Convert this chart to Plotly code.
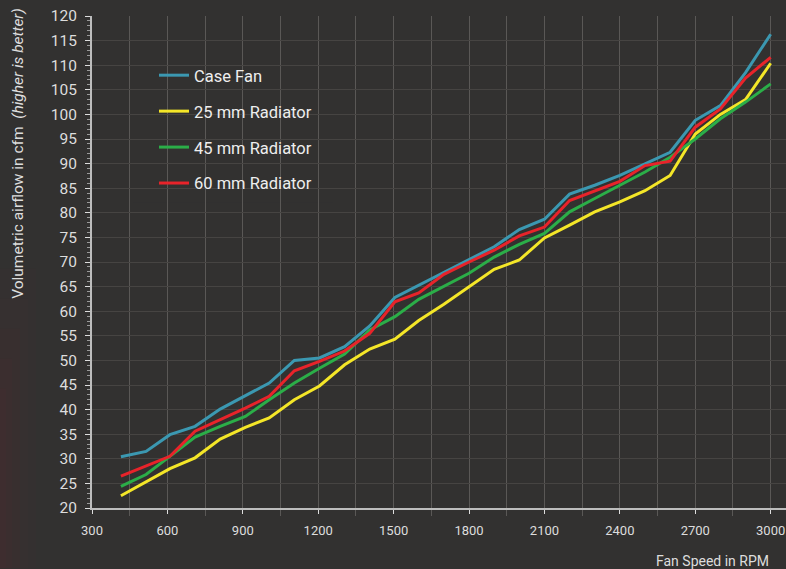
import plotly.graph_objects as go

rpm = [415, 515, 610, 710, 810, 910, 1005, 1105, 1205, 1305, 1405, 1505, 1600, 1700,
       1800, 1900, 2000, 2100, 2200, 2300, 2400, 2500, 2600, 2700, 2800, 2900, 3000]

case_fan = [30.4, 31.5, 34.9, 36.6, 40.1, 42.9, 45.4, 50.0, 50.5, 52.8, 57.0, 62.8, 65.3, 68.0,
            70.5, 73.1, 76.6, 78.7, 83.8, 85.6, 87.6, 90.0, 92.3, 98.8, 101.8, 108.5, 116.3]
rad_25 = [22.5, 25.3, 28.0, 30.2, 34.0, 36.4, 38.3, 42.0, 44.8, 49.1, 52.3, 54.3, 58.1, 61.4,
          65.0, 68.5, 70.4, 74.9, 77.5, 80.2, 82.2, 84.5, 87.6, 96.0, 100.0, 103.0, 110.4]
rad_45 = [24.4, 26.8, 30.5, 34.4, 36.6, 38.6, 42.0, 45.4, 48.4, 51.3, 56.2, 58.9, 62.4, 65.0,
          67.7, 71.0, 73.6, 75.8, 80.2, 82.9, 85.6, 88.3, 91.3, 95.0, 99.1, 102.5, 106.2]
rad_60 = [26.5, 28.6, 30.5, 35.6, 37.9, 40.3, 42.7, 47.9, 49.8, 51.9, 55.5, 61.9, 63.7, 67.5,
          70.0, 72.4, 75.3, 77.1, 82.5, 84.5, 86.4, 89.6, 90.5, 97.4, 101.1, 107.4, 111.6]

series_names = ["Case Fan", "25 mm Radiator", "45 mm Radiator", "60 mm Radiator"]
series_values = [case_fan, rad_25, rad_45, rad_60]
series_colors = ["#3b98b1", "#f4e628", "#2bae48", "#e8232a"]

BG = "#323130"
FONT = "Roboto"

fig = go.Figure()
for i, (name, vals, col) in enumerate(zip(series_names, series_values, series_colors)):
    fig.add_trace(go.Scatter(
        x=rpm, y=vals, name=name, mode="lines",
        line=dict(color=col, width=3),
        legendgroup=f"g{i}",
    ))

shapes = [
    # legend backdrop hiding gridlines
    dict(type="rect", xref="paper", yref="paper",
         x0=(133 - 92) / 694, x1=(333 - 92) / 694,
         y0=(508.5 - 203) / 492.5, y1=(508.5 - 53) / 492.5,
         fillcolor=BG, line=dict(width=0), layer="between"),
]
# subtle reddish glow at the left edge
for w, h, op in [(36, 300, 0.035), (28, 270, 0.04), (20, 240, 0.045), (12, 210, 0.05), (6, 180, 0.05)]:
    shapes.append(dict(type="rect", xref="paper", yref="paper",
                       x0=-92 / 694, x1=(w - 92) / 694,
                       y0=(508.5 - 569) / 492.5, y1=(508.5 - (569 - h)) / 492.5,
                       fillcolor="#7a2838", opacity=op, line=dict(width=0), layer="below"))

fig.update_layout(
    width=786, height=569,
    margin=dict(l=92, r=0, t=16, b=60.5),
    paper_bgcolor=BG, plot_bgcolor=BG,
    font=dict(family=FONT, color="#dddddd"),
    shapes=shapes,
    showlegend=True,
    legend=dict(
        x=(154 - 92) / 694, y=(508.5 - 58) / 492.5,
        xanchor="left", yanchor="top",
        bgcolor="rgba(0,0,0,0)",
        font=dict(family=FONT, size=16.5, color="#eeeeee"),
        traceorder="grouped", tracegroupgap=11.5,
    ),
    xaxis=dict(
        range=[300, 3061], tick0=300, dtick=300,
        showgrid=True, gridcolor="#5a5856", gridwidth=1,
        showline=True, linecolor="#bdbdbd", linewidth=2,
        ticks="outside", ticklen=4, tickcolor="#dddddd", tickwidth=1,
        ticklabelstandoff=5,
        tickfont=dict(family=FONT, size=13, color="#dddddd"),
        minor=dict(dtick=150, tick0=300, showgrid=True, gridcolor="#5a5856",
                   ticks="outside", ticklen=6, tickcolor="#5a5856"),
        zeroline=False,
    ),
    yaxis=dict(
        range=[20, 120], tick0=20, dtick=5,
        showgrid=True, gridcolor="#464442", gridwidth=1,
        showline=True, linecolor="#bdbdbd", linewidth=2,
        ticks="outside", ticklen=5, tickcolor="#dddddd", tickwidth=1,
        ticklabelstandoff=5,
        tickfont=dict(family=FONT, size=15.5, color="#dddddd"),
        minor=dict(dtick=1, ticks="outside", ticklen=3, tickcolor="#9a9a9a", showgrid=False),
        zeroline=False,
    ),
    annotations=[
        dict(text="Fan Speed in RPM", xref="paper", yref="paper",
             x=(771 - 92) / 694, y=(508.5 - 562) / 492.5,
             xanchor="right", yanchor="middle", showarrow=False,
             font=dict(family=FONT, size=14, color="#dddddd")),
        dict(text="Volumetric airflow in cfm  <i>(higher is better)</i>",
             xref="paper", yref="paper",
             x=(18 - 92) / 694, y=(508.5 - 154) / 492.5,
             xanchor="center", yanchor="middle", textangle=-90, showarrow=False,
             font=dict(family=FONT, size=15.5, color="#dddddd")),
    ],
)

fig.write_html("out.html", config={"displayModeBar": False},
               post_script="document.body.style.margin='0';document.body.style.overflow='hidden';")
